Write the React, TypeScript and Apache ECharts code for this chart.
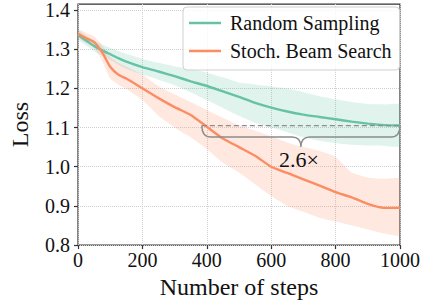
import React, { useEffect, useRef } from 'react';
import * as echarts from 'echarts';

const steps = [0, 25, 50, 75, 100, 125, 150, 200, 250, 300, 350, 400, 450, 500, 550, 600, 650, 700, 750, 800, 850, 900, 950, 1000];

const rsMean = [1.336, 1.322, 1.308, 1.297, 1.287, 1.277, 1.268, 1.254, 1.243, 1.231, 1.218, 1.206, 1.192, 1.178, 1.163, 1.151, 1.141, 1.133, 1.127, 1.121, 1.115, 1.110, 1.106, 1.105];
const rsUpper = [1.348, 1.335, 1.322, 1.312, 1.303, 1.295, 1.288, 1.275, 1.265, 1.256, 1.250, 1.240, 1.228, 1.215, 1.210, 1.205, 1.200, 1.190, 1.180, 1.172, 1.165, 1.160, 1.159, 1.159];
const rsLower = [1.325, 1.310, 1.295, 1.283, 1.272, 1.260, 1.250, 1.235, 1.222, 1.208, 1.190, 1.170, 1.150, 1.130, 1.112, 1.100, 1.088, 1.075, 1.066, 1.060, 1.056, 1.054, 1.053, 1.053];

const sbsMean = [1.340, 1.328, 1.318, 1.292, 1.255, 1.235, 1.225, 1.200, 1.175, 1.152, 1.132, 1.102, 1.072, 1.050, 1.028, 1.000, 0.984, 0.968, 0.952, 0.935, 0.922, 0.905, 0.895, 0.895];
const sbsUpper = [1.350, 1.342, 1.332, 1.310, 1.280, 1.265, 1.255, 1.235, 1.205, 1.185, 1.165, 1.145, 1.125, 1.105, 1.092, 1.078, 1.062, 1.050, 1.040, 1.025, 0.985, 0.972, 0.969, 0.969];
const sbsLower = [1.330, 1.315, 1.303, 1.270, 1.225, 1.210, 1.198, 1.170, 1.130, 1.100, 1.075, 1.045, 1.010, 0.985, 0.955, 0.925, 0.900, 0.885, 0.870, 0.860, 0.850, 0.840, 0.830, 0.825];

const seriesNames = ['Random Sampling', 'Stoch. Beam Search'];
const yTicks = [0.8, 0.9, 1.0, 1.1, 1.2, 1.3, 1.4];
const speedup = 2.6;
const speedupLabel = '2.6×';

const GREEN = '#66c2a5';
const ORANGE = '#fc8d62';
const FONT = 'Liberation Serif';

function bandSeries(name: string, upper: number[], lower: number[], fill: string, z: number) {
  return {
    type: 'custom',
    name,
    silent: true,
    z,
    clip: true,
    data: steps.map((x, i) => [x, lower[i], upper[i]]),
    encode: { x: 0, y: [1, 2] },
    renderItem: (params: any, api: any) => {
      if (params.dataIndex !== 0) return null;
      const pts: number[][] = [];
      for (let i = 0; i < steps.length; i++) pts.push(api.coord([steps[i], upper[i]]));
      for (let i = steps.length - 1; i >= 0; i--) pts.push(api.coord([steps[i], lower[i]]));
      return { type: 'polygon', shape: { points: pts, smooth: 0.15 }, style: { fill } };
    },
  };
}

export default function App() {
  const ref = useRef<HTMLDivElement>(null);
  useEffect(() => {
    if (!ref.current) return;
    const chart = echarts.init(ref.current, null, { renderer: 'svg' });
    const xEnd = steps[steps.length - 1];
    const level = rsMean[rsMean.length - 1];
    const xStart = xEnd / speedup;

    const annotation = {
      type: 'custom',
      name: 'annotation',
      silent: true,
      z: 5,
      data: [[xStart, level]],
      encode: { x: 0, y: 1 },
      renderItem: (params: any, api: any) => {
        const [xL, yD] = api.coord([xStart, level]);
        const [xR] = api.coord([xEnd, level]);
        const xM = (xL + xR) / 2;
        const yB = yD + 11.5;
        const yC = yD + 21.5;
        const r = 9;
        const d = `M${xL} ${yD} Q${xL} ${yB} ${xL + r} ${yB} L${xM - r} ${yB} Q${xM} ${yB} ${xM} ${yC} Q${xM} ${yB} ${xM + r} ${yB} L${xR - r} ${yB} Q${xR} ${yB} ${xR} ${yD}`;
        return {
          type: 'group',
          children: [
            {
              type: 'line',
              shape: { x1: xL, y1: yD, x2: xR, y2: yD },
              style: { stroke: '#8c8c8c', lineWidth: 1.3, lineDash: [5, 3], fill: null },
            },
            {
              type: 'path',
              shape: { pathData: d },
              style: { stroke: '#8c8c8c', lineWidth: 1.4, fill: null },
            },
            {
              type: 'text',
              x: xM - 2,
              y: yD + 34,
              style: {
                text: speedupLabel,
                fontSize: 22,
                fontFamily: FONT,
                fill: '#111',
                align: 'center',
                verticalAlign: 'middle',
              },
            },
          ],
        };
      },
    };

    const option: any = {
      animation: false,
      backgroundColor: '#fff',
      textStyle: { fontFamily: FONT },
      grid: {
        left: 75,
        right: 38,
        top: 4,
        bottom: 57,
        show: true,
        borderColor: '#333',
        borderWidth: 1.2,
        backgroundColor: 'transparent',
      },
      legend: {
        orient: 'vertical',
        left: 183,
        top: 7,
        data: seriesNames,
        icon: 'rect',
        itemWidth: 32,
        itemHeight: 2.5,
        itemGap: 8,
        padding: [6, 8, 9, 6],
        backgroundColor: 'rgba(255,255,255,0.8)',
        borderColor: '#d0d0d0',
        borderWidth: 1,
        borderRadius: 4,
        textStyle: { fontSize: 20, fontFamily: FONT, color: '#111', padding: [0, 0, 0, 4] },
      },
      xAxis: {
        type: 'value',
        min: 0,
        max: 1000,
        interval: 200,
        name: 'Number of steps',
        nameLocation: 'middle',
        nameGap: 24,
        nameTextStyle: { fontSize: 24, fontFamily: FONT, color: '#111' },
        axisLine: { show: false },
        axisTick: { show: true, inside: false, length: 4, lineStyle: { color: '#333', width: 1.2 } },
        axisLabel: { fontSize: 20, fontFamily: FONT, color: '#111', margin: 5, formatter: (v: number) => String(v) },
        splitLine: { show: true, lineStyle: { color: '#cfcfcf', type: 'dotted', width: 1 } },
      },
      yAxis: {
        type: 'value',
        min: 0.8,
        max: 1.415,
        interval: 0.1,
        name: 'Loss',
        nameLocation: 'middle',
        nameGap: 46,
        nameTextStyle: { fontSize: 24, fontFamily: FONT, color: '#111' },
        axisLine: { show: false },
        axisTick: { show: true, inside: false, length: 4, lineStyle: { color: '#333', width: 1.2 }, customValues: yTicks },
        axisLabel: {
          fontSize: 20,
          fontFamily: FONT,
          color: '#111',
          margin: 8,
          showMaxLabel: false,
          formatter: (v: number) => (Math.abs(v * 10 - Math.round(v * 10)) < 1e-6 ? v.toFixed(1) : ''),
        },
        splitLine: { show: true, lineStyle: { color: '#cfcfcf', type: 'dotted', width: 1 } },
      },
      series: [
        bandSeries('rs band', rsUpper, rsLower, 'rgba(102,194,165,0.2)', 1),
        bandSeries('sbs band', sbsUpper, sbsLower, 'rgba(252,141,98,0.2)', 1),
        {
          type: 'line',
          name: seriesNames[0],
          data: steps.map((x, i) => [x, rsMean[i]]),
          symbol: 'none',
          smooth: 0.2,
          z: 3,
          lineStyle: { color: GREEN, width: 2.4 },
          itemStyle: { color: GREEN },
        },
        {
          type: 'line',
          name: seriesNames[1],
          data: steps.map((x, i) => [x, sbsMean[i]]),
          symbol: 'none',
          smooth: 0.2,
          z: 3,
          lineStyle: { color: ORANGE, width: 2.4 },
          itemStyle: { color: ORANGE },
        },
        annotation,
      ],
    };
    chart.setOption(option);
    return () => chart.dispose();
  }, []);
  return <div ref={ref} style={{ width: 438, height: 304, position: 'absolute', left: 0, top: 0 }} />;
}
